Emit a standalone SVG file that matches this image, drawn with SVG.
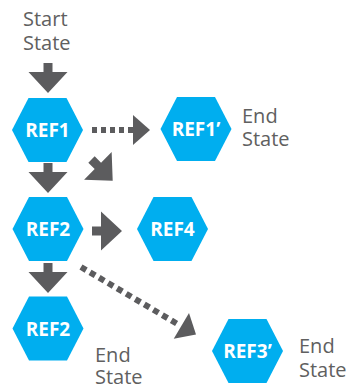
<svg xmlns="http://www.w3.org/2000/svg" width="346" height="390" viewBox="0 0 346 390">
  <defs>
    <style>
      .hex { fill: #00AEEF; }
      .lbl { font-family: "Open Sans", "Liberation Sans", sans-serif; font-weight: bold; font-size: 19px; fill: #ffffff; text-anchor: middle; }
      .note { font-family: "Open Sans", "Liberation Sans", sans-serif; font-size: 20px; fill: #606060; }
      .arrow { fill: #5c5c5e; }
      .dots { stroke: #5c5c5e; stroke-width: 6; fill: none; }
    </style>
    <polygon id="hexshape" points="-35.5,0 -19,-32 19,-32 35.5,0 19,32 -19,32"/>
    <!-- solid arrow pointing down, origin at top centre of shaft -->
    <polygon id="solidArrow" points="-4.5,0 4.5,0 4.5,9 19.5,9 0,30 -19.5,9 -4.5,9"/>
    <!-- small arrowhead pointing right, tip at origin -->
    <polygon id="dotHead" points="0,0 -17,-15 -17,15"/>
  </defs>

  <text class="note" x="23" y="26">Start</text>
  <text class="note" x="23" y="50">State</text>

  <g id="connectors">
    <use href="#solidArrow" class="arrow" transform="translate(48,63)"/>
    <use href="#solidArrow" class="arrow" transform="translate(48,163)"/>
    <use href="#solidArrow" class="arrow" transform="translate(48,263)"/>
    <use href="#solidArrow" class="arrow" transform="translate(92,231) rotate(-90)"/>
    <use href="#solidArrow" class="arrow" transform="translate(91.5,159.5) rotate(-45)"/>
    <line class="dots" x1="92" y1="130" x2="133" y2="130" stroke-dasharray="5,4"/>
    <use href="#dotHead" class="arrow" transform="translate(150,130)"/>
    <line class="dots" x1="81" y1="267" x2="180" y2="325.5" stroke-dasharray="6,4.5"/>
    <use href="#dotHead" class="arrow" transform="translate(196,334.5) rotate(30.6)"/>
  </g>

  <g id="ref1">
    <use href="#hexshape" class="hex" transform="translate(47.5,130)"/>
    <text class="lbl" x="47.5" y="137">REF1</text>
  </g>
  <g id="ref1p">
    <use href="#hexshape" class="hex" transform="translate(196,129)"/>
    <text class="lbl" x="196" y="136">REF1’</text>
    <text class="note" x="242" y="123">End</text>
    <text class="note" x="242" y="146">State</text>
  </g>
  <g id="ref2">
    <use href="#hexshape" class="hex" transform="translate(48,229)"/>
    <text class="lbl" x="48" y="236">REF2</text>
  </g>
  <g id="ref4">
    <use href="#hexshape" class="hex" transform="translate(172.5,229)"/>
    <text class="lbl" x="172.5" y="236">REF4</text>
  </g>
  <g id="ref2b">
    <use href="#hexshape" class="hex" transform="translate(48,328.5)"/>
    <text class="lbl" x="48" y="335.5">REF2</text>
    <text class="note" x="95" y="362">End</text>
    <text class="note" x="95" y="384">State</text>
  </g>
  <g id="ref3p">
    <use href="#hexshape" class="hex" transform="translate(247.5,351)"/>
    <text class="lbl" x="247.5" y="358">REF3’</text>
    <text class="note" x="299" y="353">End</text>
    <text class="note" x="299" y="377">State</text>
  </g>
</svg>
